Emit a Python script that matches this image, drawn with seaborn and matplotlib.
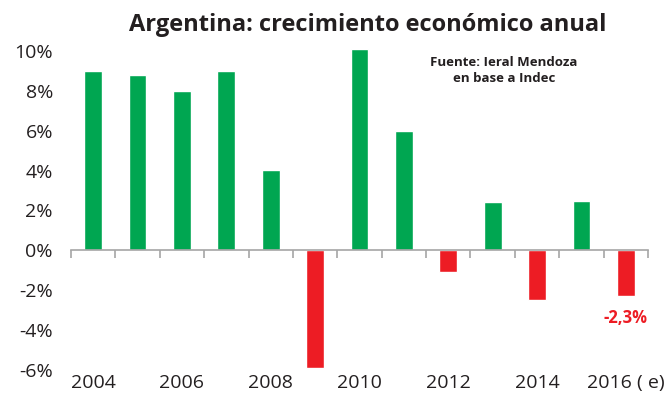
import numpy as np
import pandas as pd
import matplotlib
matplotlib.use("Agg")
import matplotlib.pyplot as plt
import seaborn as sns

# Argentina: crecimiento económico anual (Fuente: Ieral Mendoza en base a Indec)
anios = ["2004", "2005", "2006", "2007", "2008", "2009", "2010",
         "2011", "2012", "2013", "2014", "2015", "2016 ( e)"]
crecimiento = [9.0, 8.8, 8.0, 9.0, 4.05, -5.9, 10.1, 6.0, -1.1, 2.4, -2.5, 2.45, -2.3]
etiquetas_x = ["2004", "", "2006", "", "2008", "", "2010", "", "2012", "", "2014", "", "2016 ( e)"]
yticks = [-6, -4, -2, 0, 2, 4, 6, 8, 10]

verde = "#00A651"
rojo = "#ED1C24"

sns.set_theme(style="white")
plt.rcParams['font.family'] = ['Open Sans', 'DejaVu Sans']

df = pd.DataFrame({"anio": anios, "valor": crecimiento})
df["signo"] = np.where(df["valor"] >= 0, "pos", "neg")

fig = plt.figure(figsize=(6.68, 4.01), dpi=100)
ax = fig.add_axes([0.1063, 0.0773, 0.8637, 0.8057])

sns.barplot(data=df, x="anio", y="valor", hue="signo",
            palette={"pos": verde, "neg": rojo}, width=0.4,
            dodge=False, legend=False, saturation=1, ax=ax)

ax.set_ylim(-6, 10.2)
ax.set_xlim(-0.5, len(anios) - 0.5)
ax.set_yticks(yticks)
ax.set_yticklabels([f"{v}%" for v in yticks], fontsize=14, color="#231f20")
ax.tick_params(axis="y", length=0, pad=13)
ax.set_xlabel("")
ax.set_ylabel("")

for s in ["top", "right", "left"]:
    ax.spines[s].set_visible(False)
ax.spines["bottom"].set_position(("data", 0))
ax.spines["bottom"].set_color("#a6a6a6")
ax.spines["bottom"].set_linewidth(1.2)

# marcas entre categorías sobre el eje en 0
ax.set_xticks(np.arange(-0.5, len(anios), 1.0), minor=True)
ax.set_xticks(np.arange(len(anios)))
ax.set_xticklabels([])
ax.tick_params(axis="x", which="major", length=0)
ax.tick_params(axis="x", which="minor", bottom=True, length=6, width=1.2,
               color="#a6a6a6", direction="out")

# etiquetas de años al pie
sec = ax.secondary_xaxis("bottom")
sec.set_xticks(np.arange(len(anios)))
sec.set_xticklabels(etiquetas_x, fontsize=14, color="#231f20")
sec.tick_params(length=0, pad=3)
sec.spines["bottom"].set_visible(False)

# valor del último año
ax.annotate(f"{crecimiento[-1]:.1f}%".replace(".", ","),
            xy=(len(anios) - 1, crecimiento[-1]), xytext=(0, -9),
            textcoords="offset points", ha="center", va="top",
            fontsize=12, fontweight="bold", color=rojo)

fig.text(0.55, 0.937, "Argentina: crecimiento económico anual",
         ha="center", va="center", fontsize=17, fontweight="bold", color="#231f20")
fig.text(0.7545, 0.823, "Fuente: Ieral Mendoza\nen base a Indec", ha="center", va="center",
         fontsize=9.5, fontweight="bold", color="#231f20", linespacing=1.3)

fig.savefig("out.png", dpi=100)
plt.close(fig)
